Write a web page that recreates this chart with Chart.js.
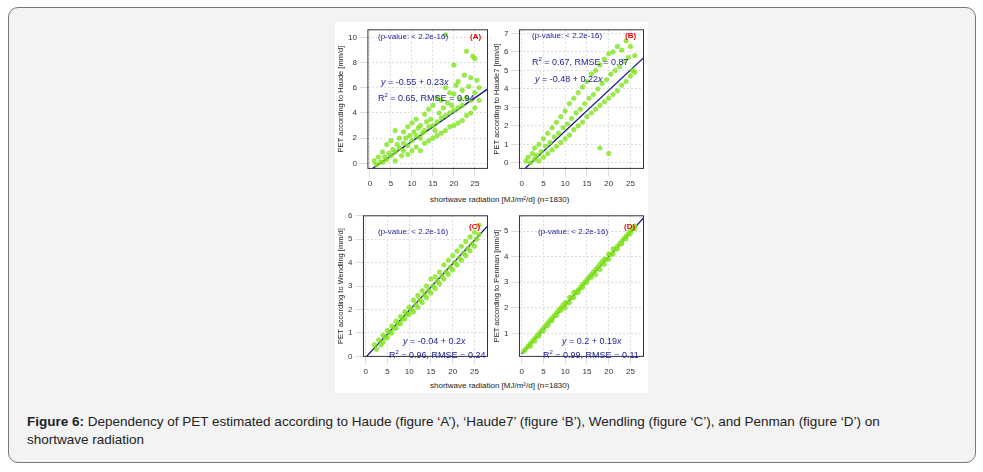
<!DOCTYPE html>
<html>
<head>
<meta charset="utf-8">
<script src="https://cdn.jsdelivr.net/npm/chart.js@4"></script>
<style>
  body { margin:0; width:983px; height:472px; background:#fff; font-family:"Liberation Sans", Arial, sans-serif; position:relative; overflow:hidden; }
  #frame { position:absolute; left:8px; top:7px; width:966px; height:454px; border:1px solid #777; border-radius:10px; background:#f3f3f3; }
  #fig { position:absolute; left:335px; top:22px; width:313px; height:371px; background:#fff; }
  .pc { position:absolute; }
  .txt { position:absolute; font-size:8px; white-space:nowrap; color:#22229a; }
  .lab { position:absolute; font-size:8px; color:#222; white-space:nowrap; }
  .tag { position:absolute; font-size:8px; color:#e00; font-weight:bold; }
  #cap { position:absolute; left:27px; top:413px; font-size:13.5px; color:#222; line-height:18px; width:915px; }
</style>
</head>
<body>
<div id="frame"></div>
<div id="fig"></div>
<canvas id="cA" class="pc" style="left:336px;top:22px;width:156px;height:170px"></canvas>
<canvas id="cB" class="pc" style="left:492px;top:22px;width:156px;height:170px"></canvas>
<canvas id="cC" class="pc" style="left:336px;top:208px;width:156px;height:172px"></canvas>
<canvas id="cD" class="pc" style="left:492px;top:208px;width:156px;height:172px"></canvas>

<div class="lab" style="left:430px;top:195px">shortwave radiation [MJ/m²/d] (n=1830)</div>
<div class="lab" style="left:430px;top:381px">shortwave radiation [MJ/m²/d] (n=1830)</div>

<div class="txt" style="left:378px;top:32px">(p-value: &lt; 2.2e-16)</div>
<div class="tag" style="left:470px;top:32px">(A)</div>
<div class="txt" style="left:381px;top:77px;font-size:9px"><i>y</i> = -0.55 + 0.23<i>x</i></div>
<div class="txt" style="left:378px;top:92px;font-size:9px">R<sup style="font-size:6px">2</sup> = 0.65,  RMSE = 0.94</div>

<div class="txt" style="left:532px;top:31px">(p-value: &lt; 2.2e-16)</div>
<div class="tag" style="left:625px;top:31px">(B)</div>
<div class="txt" style="left:532px;top:56px;font-size:9px">R<sup style="font-size:6px">2</sup> = 0.67,  RMSE = 0.87</div>
<div class="txt" style="left:535px;top:74px;font-size:9px"><i>y</i> = -0.48 + 0.22<i>x</i></div>

<div class="txt" style="left:378px;top:227px">(p-value: &lt; 2.2e-16)</div>
<div class="tag" style="left:469px;top:222px">(C)</div>
<div class="txt" style="left:403px;top:336px;font-size:9px"><i>y</i> = -0.04 + 0.2<i>x</i></div>
<div class="txt" style="left:389px;top:349px;font-size:9px">R<sup style="font-size:6px">2</sup> = 0.96,  RMSE = 0.24</div>

<div class="txt" style="left:538px;top:227px">(p-value: &lt; 2.2e-16)</div>
<div class="tag" style="left:624px;top:222px">(D)</div>
<div class="txt" style="left:562px;top:336px;font-size:9px"><i>y</i> = 0.2 + 0.19<i>x</i></div>
<div class="txt" style="left:543px;top:349px;font-size:9px">R<sup style="font-size:6px">2</sup> = 0.99,  RMSE = 0.11</div>

<div id="cap"><b>Figure 6:</b> Dependency of PET estimated according to Haude (figure ‘A’), ‘Haude7’ (figure ‘B’), Wendling (figure ‘C’), and Penman (figure ‘D’) on shortwave radiation</div>

<script>
// rough hand-read samples of each scatter cloud: [radiation, PET]
const pointsA = [[1,0.2],[1.5,-0.1],[2,0.5],[2.5,0.1],[3,0.9],[3,0.1],[3.5,0.5],[4,1.5],[4,0.3],[4.5,0.8],[5,0.6],[5,1.8],[5.5,1.1],[6,0.9],[6,2.6],[6,0.2],[6.5,1.5],[7,1.2],[7,2.0],[7.5,0.6],[8,1.0],[8,2.5],[8,1.6],[8.5,2.0],[9,1.4],[9,2.9],[9,0.7],[9.5,2.2],[10,1.8],[10,3.2],[10,1.0],[10.5,2.5],[11,2.2],[11,1.3],[11,3.5],[11.5,2.8],[12,2.0],[12,3.0],[12,1.0],[12.5,2.4],[13,2.6],[13,3.9],[13,1.6],[13.5,3.3],[14,2.9],[14,4.3],[14,1.8],[14.5,3.5],[15,3.0],[15,4.6],[15,2.0],[15.5,2.6],[16,3.3],[16,5.2],[16,2.2],[16.5,4.0],[17,3.6],[17,5.0],[17,2.4],[17.5,4.4],[18,3.8],[18,6.0],[18,2.6],[18,10.2],[18.5,4.8],[19,4.0],[19,5.6],[19,2.9],[19.5,4.6],[20,4.2],[20,7.8],[20,3.0],[20,5.5],[20.5,6.2],[21,4.4],[21,6.5],[21,3.2],[21.5,5.1],[22,4.6],[22,5.8],[22,3.4],[22.5,7.0],[23,5.2],[23,8.9],[23,3.8],[23.5,6.1],[24,5.0],[24,6.8],[24,4.0],[24.5,8.5],[25,5.6],[25,8.3],[25,4.4],[25.5,6.6],[26,6.0],[26,5.0]];
const pointsB = [[1,0.1],[1.5,0.3],[2,0.0],[2.5,0.5],[3,0.2],[3,0.8],[3.5,0.4],[4,1.0],[4,0.1],[4.5,0.6],[5,1.3],[5,0.3],[5.5,0.9],[6,1.6],[6,0.5],[6.5,1.1],[7,1.9],[7,0.7],[7.5,1.4],[8,2.2],[8,0.9],[8.5,1.6],[9,2.5],[9,1.1],[9.5,1.9],[10,2.8],[10,1.3],[10.5,2.1],[11,3.2],[11,1.5],[11.5,2.4],[12,3.5],[12,1.8],[12.5,2.7],[13,3.8],[13,2.0],[13.5,2.9],[14,4.1],[14,2.2],[14.5,3.2],[15,4.4],[15,2.5],[15.5,3.5],[16,4.8],[16,2.7],[16.5,3.7],[17,5.0],[17,2.9],[17.5,4.0],[18,5.3],[18,3.1],[18,0.8],[18.5,4.3],[19,5.6],[19,3.3],[19.5,4.5],[20,5.9],[20,3.5],[20,0.5],[20.5,4.8],[21,6.0],[21,3.7],[21.5,5.0],[22,6.3],[22,3.9],[22.5,5.2],[23,6.1],[23,4.2],[23.5,5.5],[24,6.6],[24,4.4],[24.5,5.7],[25,6.3],[25,4.7],[25.5,5.0],[26,5.8],[26,4.9]];
const pointsC = [[2,0.5],[2.5,0.3],[3,0.7],[3.5,0.5],[4,0.9],[4,0.6],[4.5,0.8],[5,1.1],[5,0.8],[5.5,1.0],[6,1.3],[6,1.0],[6.5,1.2],[7,1.5],[7,1.2],[7.5,1.4],[8,1.7],[8,1.4],[8.5,1.6],[9,1.9],[9,1.6],[9.5,1.8],[10,2.1],[10,1.8],[10.5,2.0],[11,2.4],[11,1.9],[11.5,2.2],[12,2.6],[12,2.1],[12.5,2.4],[13,2.8],[13,2.3],[13.5,2.6],[14,3.0],[14,2.5],[14.5,2.8],[15,3.3],[15,2.7],[15.5,3.0],[16,3.4],[16,2.9],[16.5,3.2],[17,3.6],[17,3.1],[17.5,3.4],[18,3.9],[18,3.3],[18.5,3.6],[19,4.1],[19,3.5],[19.5,3.8],[20,4.3],[20,3.7],[20.5,4.0],[21,4.5],[21,3.9],[21.5,4.2],[22,4.7],[22,4.1],[22.5,4.4],[23,4.9],[23,4.3],[23.5,4.6],[24,5.1],[24,4.5],[24.5,4.8],[25,5.3],[25,4.7],[25.5,5.0],[26,5.6],[26,5.2]];
const pointsD = [[0.5,0.3],[1,0.4],[1.5,0.5],[2,0.6],[2,0.5],[2.5,0.7],[3,0.8],[3,0.7],[3.5,0.9],[4,1.0],[4,0.9],[4.5,1.1],[5,1.2],[5,1.1],[5.5,1.3],[6,1.4],[6,1.3],[6.5,1.5],[7,1.6],[7,1.5],[7.5,1.7],[8,1.8],[8,1.7],[8.5,1.9],[9,2.0],[9,1.9],[9.5,2.1],[10,2.2],[10,2.0],[10.5,2.2],[11,2.4],[11,2.2],[11.5,2.4],[12,2.6],[12,2.4],[12.5,2.6],[13,2.7],[13,2.6],[13.5,2.8],[14,2.9],[14,2.8],[14.5,3.0],[15,3.1],[15,3.0],[15.5,3.2],[16,3.3],[16,3.2],[16.5,3.4],[17,3.5],[17,3.3],[17.5,3.6],[18,3.7],[18,3.5],[18.5,3.8],[19,3.9],[19,3.7],[19.5,3.9],[20,4.1],[20,3.9],[20.5,4.1],[21,4.3],[21,4.1],[21.5,4.3],[22,4.4],[22,4.3],[22.5,4.5],[23,4.6],[23,4.5],[23.5,4.7],[24,4.8],[24,4.7],[24.5,4.9],[25,5.0],[25,4.9],[25.5,5.1],[26,5.2],[26,5.1]];
// regression line end points
const lineA = [[0,-0.55],[28,5.89]];
const lineB = [[0,-0.48],[28,5.68]];
const lineC = [[0,-0.04],[28,5.56]];
const lineD = [[0,0.2],[28,5.52]];
// tick labels
const xTicks = [0, 5, 10, 15, 20, 25];
const yTicksA = [0, 2, 4, 6, 8, 10];
const yTicksB = [0, 1, 2, 3, 4, 5, 6, 7];
const yTicksC = [0, 1, 2, 3, 4, 5, 6];
const yTicksD = [1, 2, 3, 4, 5];

const boxPlugin = {
    id: 'box',
    afterDraw(chart) {
        const a = chart.chartArea, ctx = chart.ctx;
        ctx.save();
        ctx.strokeStyle = '#333';
        ctx.lineWidth = 1;
        ctx.strokeRect(a.left, a.top, a.right - a.left, a.bottom - a.top);
        ctx.restore();
    }
};

function makePanel(id, pts, line, yTitle, yMin, yMax, yTicks) {
    const tickFont = { size: 8, family: 'Liberation Sans' };
    new Chart(document.getElementById(id), {
        type: 'scatter',
        data: {
            datasets: [
                { data: pts.map(p => ({ x: p[0], y: p[1] })), backgroundColor: 'rgba(130,230,30,0.8)', borderColor: 'rgba(120,220,20,0.9)', pointRadius: 2.3, borderWidth: 0.5 },
                { data: line.map(p => ({ x: p[0], y: p[1] })), showLine: true, borderColor: '#10108a', borderWidth: 1.3, pointRadius: 0 }
            ]
        },
        options: {
            responsive: false, animation: false,
            layout: { padding: { right: 2, top: 2 } },
            plugins: { legend: { display: false }, tooltip: { enabled: false } },
            scales: {
                x: { min: -0.5, max: 28, ticks: { font: tickFont, color: '#333', autoSkip: false, maxRotation: 0 },
                     afterBuildTicks: s => { s.ticks = xTicks.map(v => ({ value: v })); },
                     grid: { color: '#ddd' }, border: { dash: [2, 2], display: false } },
                y: { min: yMin, max: yMax, ticks: { font: tickFont, color: '#333', autoSkip: false },
                     afterBuildTicks: s => { s.ticks = yTicks.map(v => ({ value: v })); },
                     title: { display: true, text: yTitle, font: { size: 7.5, family: 'Liberation Sans' }, color: '#222', padding: 0 },
                     grid: { color: '#ddd' }, border: { dash: [2, 2], display: false } }
            }
        },
        plugins: [boxPlugin]
    });
}

for (const c of ['cA', 'cB', 'cC', 'cD']) {
    const el = document.getElementById(c);
    el.width = parseInt(el.style.width); el.height = parseInt(el.style.height);
}
makePanel('cA', pointsA, lineA, 'PET according to Haude [mm/d]', -0.4, 10.6, yTicksA);
makePanel('cB', pointsB, lineB, 'PET according to Haude7 [mm/d]', -0.3, 7.2, yTicksB);
makePanel('cC', pointsC, lineC, 'PET according to Wendling [mm/d]', 0, 6, yTicksC);
makePanel('cD', pointsD, lineD, 'PET according to Penman [mm/d]', 0.1, 5.6, yTicksD);
</script>
</body>
</html>
